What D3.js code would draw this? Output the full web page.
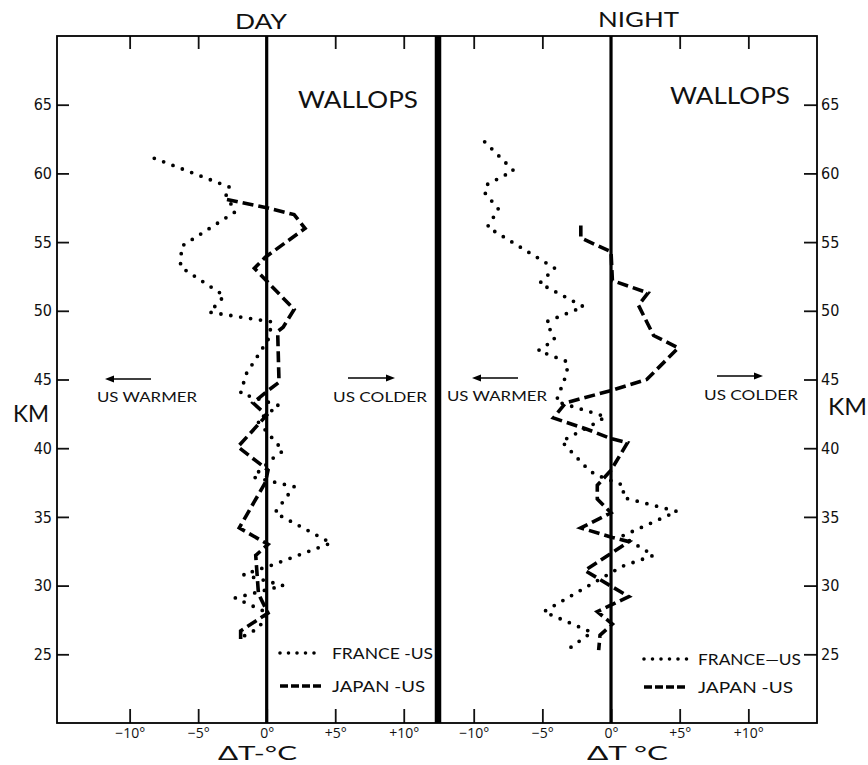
<!DOCTYPE html>
<html>
<head>
<meta charset="utf-8">
<script src="https://cdn.jsdelivr.net/npm/d3@7"></script>
<style>
  body { margin: 0; background: #fff; }
  svg { display: block; }
  .lbl { font-family: Lato, "Open Sans", sans-serif; fill: #111; }
  .num { font-family: "Liberation Sans Narrow", "DejaVu Sans Condensed", sans-serif; font-size: 16px; fill: #111; }
  .deg { font-family: "Open Sans", Lato, sans-serif; font-size: 14px; fill: #111; }
</style>
</head>
<body>
<svg id="chart" width="868" height="765"></svg>
<script>
// altitude ticks (km) and temperature-difference ticks (deg C)
var kmTicks = [25, 30, 35, 40, 45, 50, 55, 60, 65];
var dtTicks = [-10, -5, 0, 5, 10];
var dtLabels = ["\u221210\u00b0", "\u22125\u00b0", "0\u00b0", "+5\u00b0", "+10\u00b0"];

// [km, deltaT]
var dayFrance = [
  [61.1, -8.2], [59.0, -2.7], [58.5, -3.0], [57.2, -2.3], [54.7, -6.2], [53.2, -6.3],
  [51.1, -3.1], [50.5, -3.6], [49.9, -4.2], [49.3, -0.3], [49.2, 0.4], [47.9, 0.1],
  [45.4, -1.5], [44.0, -1.9], [43.1, 0.9], [42.0, -0.7], [40.4, 0.7], [39.8, 1.2],
  [39.4, 0.6], [37.9, -1.0], [37.2, 2.0], [35.3, 0.6], [33.1, 4.7], [31.5, 0.4],
  [30.8, -1.7], [30.0, 1.2], [29.1, -2.3], [28.0, 0.1], [26.9, -0.6], [26.2, -1.9]
];
var dayJapan = [
  [58.1, -2.9], [57.5, 0.0], [57.0, 2.0], [56.0, 2.8], [53.9, -0.1], [53.1, -0.9],
  [50.1, 2.0], [48.8, 1.2], [48.5, 0.8], [44.8, 0.9], [44.2, 0.1], [43.3, -1.0],
  [42.4, 0.0], [40.1, -2.1], [38.4, 0.1], [37.5, -0.1], [34.2, -2.0], [33.0, 0.1],
  [32.2, -0.8], [29.4, -0.6], [28.0, 0.1], [26.7, -1.9], [26.0, -1.9]
];
var nightFrance = [
  [62.3, -9.2], [60.2, -7.1], [59.2, -9.0], [58.6, -9.2], [57.4, -8.2], [56.1, -9.0],
  [53.1, -4.1], [52.0, -5.2], [50.3, -2.0], [49.2, -4.7], [47.9, -4.1], [47.1, -5.3],
  [46.3, -3.2], [45.5, -3.2], [43.4, -4.0], [42.3, -0.4], [41.9, -1.0], [40.5, -3.6],
  [38.7, -1.9], [38.1, -1.2], [37.3, 0.9], [36.4, 0.9], [35.4, 4.8], [33.6, 0.8],
  [32.2, 3.1], [31.4, 0.8], [28.1, -4.9], [26.6, -1.4], [25.1, -3.5]
];
var nightJapan = [
  [56.2, -2.2], [55.3, -2.2], [54.3, 0.0], [52.2, 0.1], [51.3, 2.7], [50.4, 2.0],
  [48.2, 3.1], [47.3, 4.9], [45.0, 2.6], [44.2, 0.0], [43.3, -3.3], [42.2, -4.2],
  [41.4, -1.8], [40.7, 0.0], [40.4, 1.2], [38.4, 0.0], [37.3, -1.0], [36.3, -1.0],
  [35.3, 0.0], [34.2, -2.2], [33.5, 0.1], [33.2, 1.3], [32.4, 0.1], [31.1, -1.9],
  [29.9, 0.1], [29.2, 1.3], [28.1, -1.0], [27.2, 0.1], [26.4, -0.8], [25.3, -0.9]
];

var svg = d3.select("#chart");
// plot box (note: "top" is reserved on window, so prefixed names)
var boxL = 57, boxR = 817, boxT = 36, boxB = 723, boxMid = 438;

var y = d3.scaleLinear().domain([20, 70]).range([boxB, boxT]);
var xDay = d3.scaleLinear().domain([-15.3, 12.5]).range([boxL, boxMid]);
var xNight = d3.scaleLinear().domain([-12.6, 15.0]).range([boxMid, boxR]);

function fmt(d) { return dtLabels[dtTicks.indexOf(d)]; }

function drawPanel(x, franceData, japanData) {
  // top ticks (no labels)
  var gTop = svg.append("g").attr("transform", "translate(0," + boxT + ")")
    .call(d3.axisTop(x).tickValues([-10, -5, 5, 10]).tickSize(-13).tickFormat(""));
  gTop.select(".domain").remove();
  gTop.selectAll("line").attr("stroke", "#111").attr("stroke-width", 1.8);

  // bottom ticks with labels
  var gBot = svg.append("g").attr("transform", "translate(0," + boxB + ")")
    .call(d3.axisBottom(x).tickValues(dtTicks).tickSize(-14).tickPadding(5).tickFormat(fmt));
  gBot.select(".domain").remove();
  gBot.selectAll("line").attr("stroke", "#111").attr("stroke-width", 1.8);
  gBot.selectAll("text").attr("class", "deg").attr("font-family", null).attr("font-size", null);

  // zero line
  svg.append("line")
    .attr("x1", x(0)).attr("x2", x(0)).attr("y1", boxT).attr("y2", boxB)
    .attr("stroke", "#000").attr("stroke-width", 3.2);

  var line = d3.line().x(function(d) { return x(d[1]); }).y(function(d) { return y(d[0]); });

  svg.append("path").datum(franceData).attr("d", line)
    .attr("fill", "none").attr("stroke", "#000").attr("stroke-width", 3.8)
    .attr("stroke-linecap", "round").attr("stroke-dasharray", "0 10");

  svg.append("path").datum(japanData).attr("d", line)
    .attr("fill", "none").attr("stroke", "#000").attr("stroke-width", 3.6)
    .attr("stroke-dasharray", "11 5");
}

drawPanel(xDay, dayFrance, dayJapan);
drawPanel(xNight, nightFrance, nightJapan);

// left km axis
var gL = svg.append("g").attr("transform", "translate(" + boxL + ",0)")
  .call(d3.axisLeft(y).tickValues(kmTicks).tickSize(-12).tickPadding(5));
gL.select(".domain").remove();
gL.selectAll("line").attr("stroke", "#111").attr("stroke-width", 1.8);
gL.selectAll("text").attr("class", "num").attr("font-family", null).attr("font-size", null);

// right km axis
var gR = svg.append("g").attr("transform", "translate(" + boxR + ",0)")
  .call(d3.axisRight(y).tickValues(kmTicks).tickSize(-13).tickPadding(4));
gR.select(".domain").remove();
gR.selectAll("line").attr("stroke", "#111").attr("stroke-width", 1.8);
gR.selectAll("text").attr("class", "num").attr("font-family", null).attr("font-size", null);

// frame and divider
svg.append("rect").attr("x", boxL).attr("y", boxT)
  .attr("width", boxR - boxL).attr("height", boxB - boxT)
  .attr("fill", "none").attr("stroke", "#000").attr("stroke-width", 1.8);
svg.append("line").attr("x1", boxMid).attr("x2", boxMid).attr("y1", boxT).attr("y2", boxB)
  .attr("stroke", "#000").attr("stroke-width", 6.5);

function label(t, x, yy, size, len, anchor) {
  var el = svg.append("text").attr("class", "lbl")
    .attr("x", x).attr("y", yy).attr("font-size", size)
    .attr("text-anchor", anchor || "start").text(t);
  if (len) el.attr("textLength", len).attr("lengthAdjust", "spacingAndGlyphs");
  return el;
}

label("DAY", 235, 29, 22, 52);
label("NIGHT", 598, 27, 22, 81);
label("WALLOPS", 298, 108, 23, 120);
label("WALLOPS", 670, 104, 23, 120);
label("KM", 13, 422, 24, 36);
label("KM", 828, 415, 24, 39);

label("US WARMER", 97, 402, 13, 100);
label("US COLDER", 333, 402, 13, 94);
label("US WARMER", 447, 401, 13, 100);
label("US COLDER", 704, 400, 13, 94);

label("\u0394T-\u00b0C", 218, 760, 20, 79);
label("\u0394T \u00b0C", 587, 760, 20, 81);

// direction arrows
function arrow(x1, x2, yy) {
  var dir = x2 > x1 ? 1 : -1;
  svg.append("line").attr("x1", x1).attr("x2", x2 - dir * 6).attr("y1", yy).attr("y2", yy)
    .attr("stroke", "#000").attr("stroke-width", 1.6);
  svg.append("path")
    .attr("d", "M" + x2 + "," + yy + "L" + (x2 - dir * 9) + "," + (yy - 3.5) + "L" + (x2 - dir * 9) + "," + (yy + 3.5) + "Z")
    .attr("fill", "#000");
}
arrow(151, 105, 379);
arrow(348, 395, 378);
arrow(518, 472, 378);
arrow(717, 763, 376);

// legends
function legend(x1, x2, yDot, yDash, yt1, yt2, t1, t2, l1, l2) {
  svg.append("line").attr("x1", x1).attr("x2", x2).attr("y1", yDot).attr("y2", yDot)
    .attr("stroke", "#000").attr("stroke-width", 3.6).attr("stroke-linecap", "round")
    .attr("stroke-dasharray", "0 8.5");
  svg.append("line").attr("x1", x1).attr("x2", x2).attr("y1", yDash).attr("y2", yDash)
    .attr("stroke", "#000").attr("stroke-width", 3.6).attr("stroke-dasharray", "8 3");
  label(t1, x2 + 10, yt1, 15, l1);
  label(t2, x2 + 10, yt2, 15, l2);
}
legend(280, 322, 653, 686, 659, 692, "FRANCE -US", "JAPAN -US", 101, 93);
legend(644, 688, 659, 687, 665, 693, "FRANCE\u2014US", "JAPAN -US", 103, 95);
</script>
</body>
</html>
